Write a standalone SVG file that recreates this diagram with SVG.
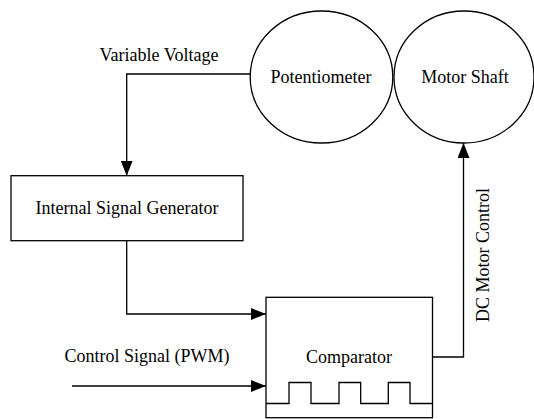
<svg xmlns="http://www.w3.org/2000/svg" width="534" height="419" viewBox="0 0 534 419">
<style>
.s{fill:none;stroke:#000;stroke-width:1.3}
.n{fill:#fff;stroke:#000;stroke-width:1.3}
.t{font-size:18px;fill:#000;text-anchor:middle}
</style>
<defs>
<marker id="ah" markerUnits="userSpaceOnUse" markerWidth="16" markerHeight="12" refX="15" refY="6" orient="auto">
<path d="M0,0 L15,6 L0,12 Z" fill="#000"/>
</marker>
</defs>
<rect width="534" height="419" fill="#fff"/>
<g id="connectors" font-family="'Liberation Serif', 'DejaVu Serif', serif">
<polyline class="s" points="250,74 126.7,74 126.7,175.7" marker-end="url(#ah)"/>
<polyline class="s" points="126.7,240.7 126.7,314 266,314" marker-end="url(#ah)"/>
<line class="s" x1="72" y1="386" x2="266" y2="386" marker-end="url(#ah)"/>
<polyline class="s" points="432.5,357 463.5,357 463.5,143" marker-end="url(#ah)"/>
<text class="t" x="159" y="60.5">Variable Voltage</text>
<text class="t" x="147" y="361.5">Control Signal (PWM)</text>
<text class="t" transform="translate(488.5,255) rotate(-90)">DC Motor Control</text>
</g>
<g id="potentiometer" font-family="'Liberation Serif', 'DejaVu Serif', serif">
<ellipse class="n" cx="321.5" cy="77" rx="71.3" ry="66"/>
<text class="t" x="321" y="83">Potentiometer</text>
</g>
<g id="motor-shaft" font-family="'Liberation Serif', 'DejaVu Serif', serif">
<ellipse class="n" cx="464" cy="77" rx="70" ry="66"/>
<text class="t" x="465" y="83">Motor Shaft</text>
</g>
<g id="internal-signal-generator" font-family="'Liberation Serif', 'DejaVu Serif', serif">
<rect class="n" x="11" y="175.7" width="232" height="65"/>
<text class="t" x="127" y="214">Internal Signal Generator</text>
</g>
<g id="comparator" font-family="'Liberation Serif', 'DejaVu Serif', serif">
<rect class="n" x="266" y="297.3" width="166.5" height="120.4"/>
<text class="t" x="349" y="363.3">Comparator</text>
<polyline class="s" points="266,403.5 289,403.5 289,382.5 311,382.5 311,403.5 339,403.5 339,382.5 360.7,382.5 360.7,403.5 388.3,403.5 388.3,382.5 410,382.5 410,403.5 432.5,403.5"/>
</g>
</svg>
